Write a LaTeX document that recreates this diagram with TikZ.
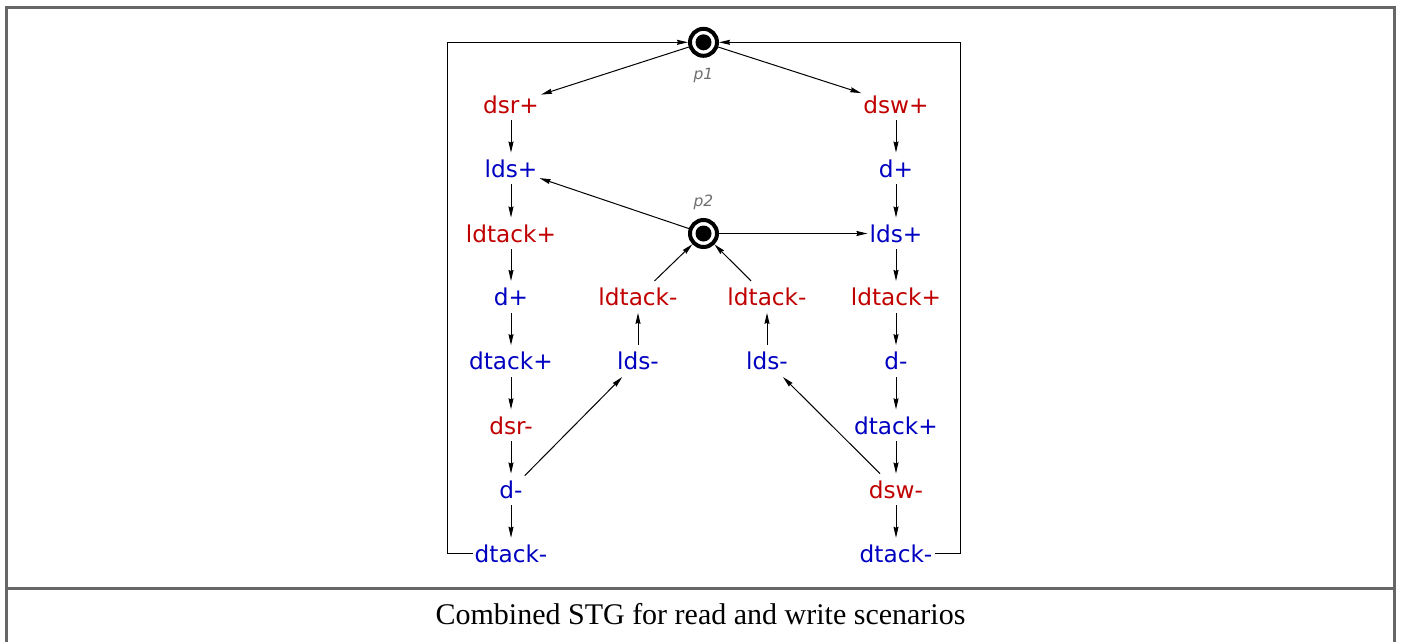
\documentclass[tikz,border=0pt]{standalone}
\usepackage{fontspec}
\setmainfont{Liberation Serif}
\newfontfamily\labfont{DejaVu Sans}
\usetikzlibrary{arrows.meta}
\definecolor{sigred}{RGB}{192,0,0}
\definecolor{sigblue}{RGB}{0,0,192}
\definecolor{framegray}{RGB}{102,102,102}
\definecolor{plabgray}{RGB}{110,110,110}
\begin{document}
\begin{tikzpicture}[x=1pt,y=-1pt,
  tr/.style={font=\labfont\fontsize{23.2}{23.2}\selectfont, inner xsep=2pt, inner ysep=7pt, text height=17.5pt, text depth=0pt},
  rd/.style={tr, text=sigred},
  bl/.style={tr, text=sigblue},
  place/.style={circle, draw=black, line width=4pt, minimum size=27pt, inner sep=0pt},
  plab/.style={font=\labfont\itshape\fontsize{15.5}{15.5}\selectfont, text=plabgray, inner sep=0pt},
  arr/.style={draw=black, line width=1pt, -{Stealth[length=11pt,width=5pt,inset=1pt]}},
  frame/.style={draw=framegray, line width=3pt}
]
\useasboundingbox (0,0) rectangle (1401,641);
% outer frame
\draw[frame] (6.5,660) -- (6.5,7.5) -- (1394.5,7.5) -- (1394.5,660);
\draw[frame] (6.5,588) -- (1394.5,588);
\node[font=\fontsize{30}{30}\selectfont, inner sep=0pt] (cap) at (700.5,614) {Combined STG for read and write scenarios};

% places
\node[place] (p1) at (703.5,42.3) {};
\fill (p1.center) circle (8pt);
\node[plab] (p1l) at (703.5,75) {p1};
\node[place] (p2) at (703.5,233.5) {};
\fill (p2.center) circle (8pt);
\node[plab] (p2l) at (703.5,202.5) {p2};

% left column
\node[rd] (l1) at (511,104.3) {dsr+};
\node[bl] (l2) at (511,168.5) {lds+};
\node[rd] (l3) at (511,233.5) {ldtack+};
\node[bl] (l4) at (511,296.9) {d+};
\node[bl] (l5) at (511,361.1) {dtack+};
\node[rd] (l6) at (511,425.3) {dsr-};
\node[bl] (l7) at (511,489.5) {d-};
\node[bl] (l8) at (511,553.7) {dtack-};

% right column
\node[rd] (r1) at (896,104.3) {dsw+};
\node[bl] (r2) at (896,168.5) {d+};
\node[bl] (r3) at (896,233.5) {lds+};
\node[rd] (r4) at (896,296.9) {ldtack+};
\node[bl] (r5) at (896,361.1) {d-};
\node[bl] (r6) at (896,425.3) {dtack+};
\node[rd] (r7) at (896,489.5) {dsw-};
\node[bl] (r8) at (896,553.7) {dtack-};

% middle columns
\node[rd] (ml1) at (638,296.9) {ldtack-};
\node[bl] (ml2) at (638,361.1) {lds-};
\node[rd] (mr1) at (767,296.9) {ldtack-};
\node[bl] (mr2) at (767,361.1) {lds-};

\coordinate (lc) at (447,42.3);
\coordinate (rc) at (960,42.3);

% arcs
\draw[arr] (p1) -- (l1);
\draw[arr] (p1) -- (r1);
\draw[arr] (l1) -- (l2);
\draw[arr] (l2) -- (l3);
\draw[arr] (l3) -- (l4);
\draw[arr] (l4) -- (l5);
\draw[arr] (l5) -- (l6);
\draw[arr] (l6) -- (l7);
\draw[arr] (l7) -- (l8);
\draw[arr] (r1) -- (r2);
\draw[arr] (r2) -- (r3);
\draw[arr] (r3) -- (r4);
\draw[arr] (r4) -- (r5);
\draw[arr] (r5) -- (r6);
\draw[arr] (r6) -- (r7);
\draw[arr] (r7) -- (r8);
\draw[arr] (l8.west) -| (lc) -- (p1);
\draw[arr] (r8.east) -| (rc) -- (p1);
\draw[arr] (p2) -- (l2);
\draw[arr] (p2) -- (r3);
\draw[arr] (l7) -- (ml2);
\draw[arr] (ml2) -- (ml1);
\draw[arr] (ml1) -- (p2);
\draw[arr] (r7) -- (mr2);
\draw[arr] (mr2) -- (mr1);
\draw[arr] (mr1) -- (p2);
\end{tikzpicture}
\end{document}
